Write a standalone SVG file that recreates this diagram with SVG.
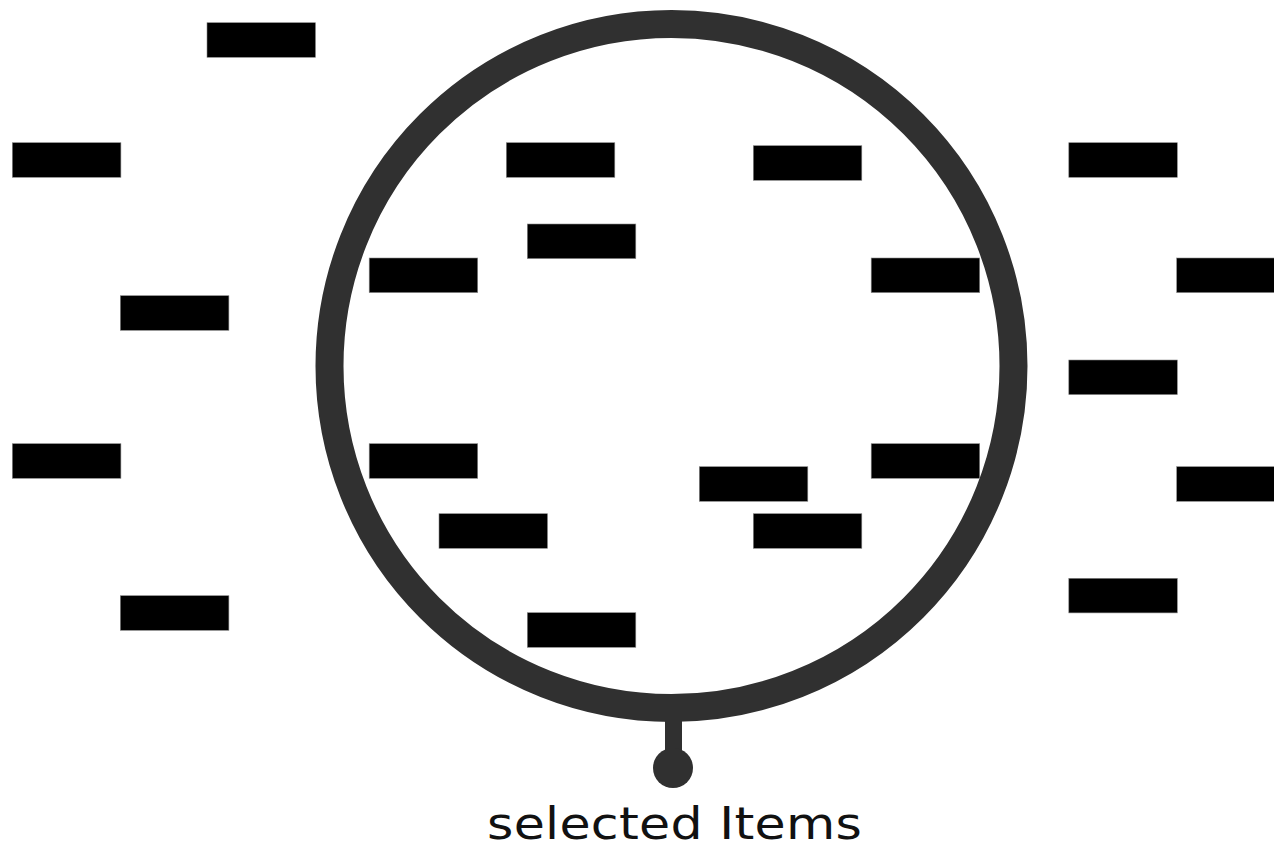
<svg xmlns="http://www.w3.org/2000/svg" width="1274" height="847" viewBox="0 0 1274 847">
<style>
.item{fill:#000;stroke:#888;stroke-width:0.6}
.ring{fill:none;stroke:#303030;stroke-width:28}
.lbl{font-family:"DejaVu Sans",sans-serif;font-size:44px;fill:#111;font-weight:normal}
</style>
<rect width="1274" height="847" fill="#fff"/>
<g id="selector">
<circle class="ring" cx="671.5" cy="366" r="342"/>
<rect x="665" y="706" width="17" height="56" fill="#303030"/>
<circle cx="673" cy="768" r="20" fill="#303030"/>
</g>
<g id="items">
<rect class="item" x="207" y="22.7" width="108.5" height="34.6"/>
<rect class="item" x="12.3" y="142.7" width="108.6" height="34.6"/>
<rect class="item" x="506.3" y="142.7" width="108.5" height="34.6"/>
<rect class="item" x="753.3" y="145.7" width="108.5" height="34.6"/>
<rect class="item" x="1068.8" y="142.7" width="108.5" height="34.6"/>
<rect class="item" x="527.3" y="224" width="108.5" height="34.6"/>
<rect class="item" x="369.2" y="258" width="108.5" height="34.6"/>
<rect class="item" x="871.2" y="258" width="108.5" height="34.6"/>
<rect class="item" x="1176.7" y="258" width="100" height="34.6"/>
<rect class="item" x="120.3" y="295.7" width="108.6" height="34.6"/>
<rect class="item" x="1068.8" y="360" width="108.5" height="34.6"/>
<rect class="item" x="12.3" y="443.7" width="108.6" height="34.6"/>
<rect class="item" x="369.2" y="443.7" width="108.5" height="34.6"/>
<rect class="item" x="871.2" y="443.7" width="108.5" height="34.6"/>
<rect class="item" x="699.3" y="466.7" width="108.5" height="34.6"/>
<rect class="item" x="1176.7" y="466.7" width="100" height="34.6"/>
<rect class="item" x="439" y="513.7" width="108.5" height="34.6"/>
<rect class="item" x="753.3" y="513.7" width="108.5" height="34.6"/>
<rect class="item" x="120.3" y="595.7" width="108.6" height="34.6"/>
<rect class="item" x="1068.8" y="578.3" width="108.5" height="34.6"/>
<rect class="item" x="527.3" y="612.7" width="108.5" height="34.6"/>
</g>
<g id="label">
<text class="lbl" transform="translate(674.5,839) scale(1.15,1)" x="0" y="0" text-anchor="middle" textLength="326" lengthAdjust="spacing">selected Items</text>
</g>
</svg>
